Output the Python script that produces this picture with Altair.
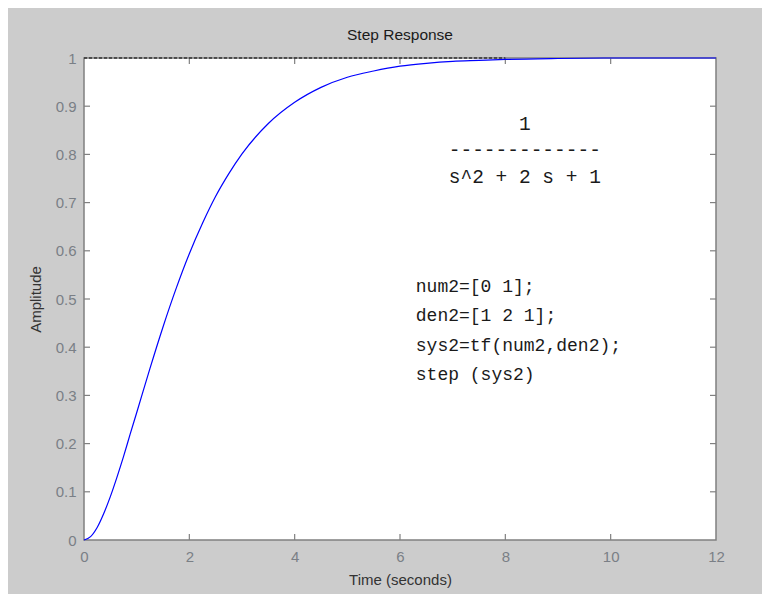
import altair as alt
import pandas as pd

# Step response
time_s = [0, 0.125, 0.25, 0.375, 0.5, 0.625, 0.75, 0.875, 1.0, 1.25, 1.5, 1.75, 2.0,
          2.25, 2.5, 2.75, 3.0, 3.5, 4.0, 4.5, 5.0, 5.5, 6.0, 6.5, 7.0, 7.5, 8.0, 9.0, 10.0, 12.0]
amplitude = [0, 0.007, 0.026, 0.055, 0.090, 0.130, 0.173, 0.219, 0.264, 0.355, 0.442, 0.522, 0.594,
             0.657, 0.713, 0.760, 0.801, 0.864, 0.908, 0.939, 0.960, 0.973, 0.983, 0.989, 0.993,
             0.995, 0.997, 0.999, 1.0, 1.0]

# Steady-state dashed line
ss_t = [0, 8]
ss_y = [1, 1]

x_ticks = [0, 2, 4, 6, 8, 10, 12]
y_ticks = [0, 0.1, 0.2, 0.3, 0.4, 0.5, 0.6, 0.7, 0.8, 0.9, 1]
x_inner_ticks = [2, 4, 6, 8, 10]
y_inner_ticks = [0.1, 0.2, 0.3, 0.4, 0.5, 0.6, 0.7, 0.8, 0.9]

# Annotation texts (positions in data units)
tf_lines = ["1", "-------------", "s^2 + 2 s + 1"]
tf_t = [8.37, 8.37, 8.37]
tf_y = [0.863, 0.809, 0.753]

code_lines = ["num2=[0 1];", "den2=[1 2 1];", "sys2=tf(num2,den2);", "step (sys2)"]
code_t = [6.30, 6.30, 6.30, 6.30]
code_y = [0.525, 0.465, 0.403, 0.342]

curve = pd.DataFrame({"t": time_s, "y": amplitude})
ss = pd.DataFrame({"t": ss_t, "y": ss_y})
xt = pd.DataFrame({"t": x_inner_ticks})
yt = pd.DataFrame({"y": y_inner_ticks})
tf_df = pd.DataFrame({"t": tf_t, "y": tf_y, "s": tf_lines})
code_df = pd.DataFrame({"t": code_t, "y": code_y, "s": code_lines})

xs = alt.Scale(domain=[0, 12], nice=False, zero=False)
ys = alt.Scale(domain=[0, 1], nice=False, zero=False)

label_font = "Liberation Sans"

x_enc = alt.X("t:Q", scale=xs, title="Time (seconds)",
              axis=alt.Axis(values=x_ticks, tickSize=0, domain=False, grid=False,
                            labelPadding=9, labelFontSize=15, labelColor="#7a7f86",
                            labelFlush=False,
                            labelFont=label_font, titleFont=label_font, titleFontSize=15,
                            titleFontWeight="normal", titleColor="#333333", titlePadding=8,
                            format="d"))
y_enc = alt.Y("y:Q", scale=ys, title="Amplitude",
              axis=alt.Axis(values=y_ticks, tickSize=0, domain=False, grid=False,
                            labelPadding=8, labelFontSize=15, labelColor="#7a7f86",
                            labelFlush=False,
                            labelFont=label_font, titleFont=label_font, titleFontSize=15,
                            titleFontWeight="normal", titleColor="#333333", titlePadding=12,
                            labelExpr="datum.value == 0 ? '0' : datum.value == 1 ? '1' : format(datum.value, '.1f')"))

dashed = alt.Chart(ss).mark_line(color="black", strokeDash=[3, 2], strokeWidth=1).encode(
    x=alt.X("t:Q", scale=xs), y=alt.Y("y:Q", scale=ys))

line = alt.Chart(curve).mark_line(color="#0000ff", strokeWidth=1.2,
                                  interpolate="monotone").encode(x=x_enc, y=y_enc)

tick_col = "#808080"
bottom_ticks = alt.Chart(xt).mark_rule(color=tick_col, strokeWidth=1.2).encode(
    x=alt.X("t:Q", scale=xs), y=alt.value(482), y2=alt.value(476))
top_ticks = alt.Chart(xt).mark_rule(color=tick_col, strokeWidth=1.2).encode(
    x=alt.X("t:Q", scale=xs), y=alt.value(0), y2=alt.value(6))
left_ticks = alt.Chart(yt).mark_rule(color=tick_col, strokeWidth=1.2).encode(
    y=alt.Y("y:Q", scale=ys), x=alt.value(0), x2=alt.value(6))
right_ticks = alt.Chart(yt).mark_rule(color=tick_col, strokeWidth=1.2).encode(
    y=alt.Y("y:Q", scale=ys), x=alt.value(632), x2=alt.value(626))

tf_text = alt.Chart(tf_df).mark_text(font="Liberation Mono", fontSize=19.5, color="#1a1a1a",
                                     align="center", baseline="middle").encode(
    x=alt.X("t:Q", scale=xs), y=alt.Y("y:Q", scale=ys), text="s:N")

code_text = alt.Chart(code_df).mark_text(font="Liberation Mono", fontSize=18, color="#1a1a1a",
                                         align="left", baseline="middle").encode(
    x=alt.X("t:Q", scale=xs), y=alt.Y("y:Q", scale=ys), text="s:N")

chart = alt.layer(
    bottom_ticks, top_ticks, left_ticks, right_ticks, dashed, line, tf_text, code_text
).properties(
    width=632, height=482,
    title=alt.TitleParams("Step Response", font=label_font, fontSize=15.5, fontWeight="normal",
                          color="#1a1a1a", offset=8),
    autosize=alt.AutoSizeParams(type="none"),
    padding={"left": 76, "top": 50, "right": 46, "bottom": 54},
    background="#cccccc",
).configure_view(
    fill="white", stroke="#808080", strokeWidth=1.5
)

chart.save("out.html", embed_options={"renderer": "svg", "actions": False})
